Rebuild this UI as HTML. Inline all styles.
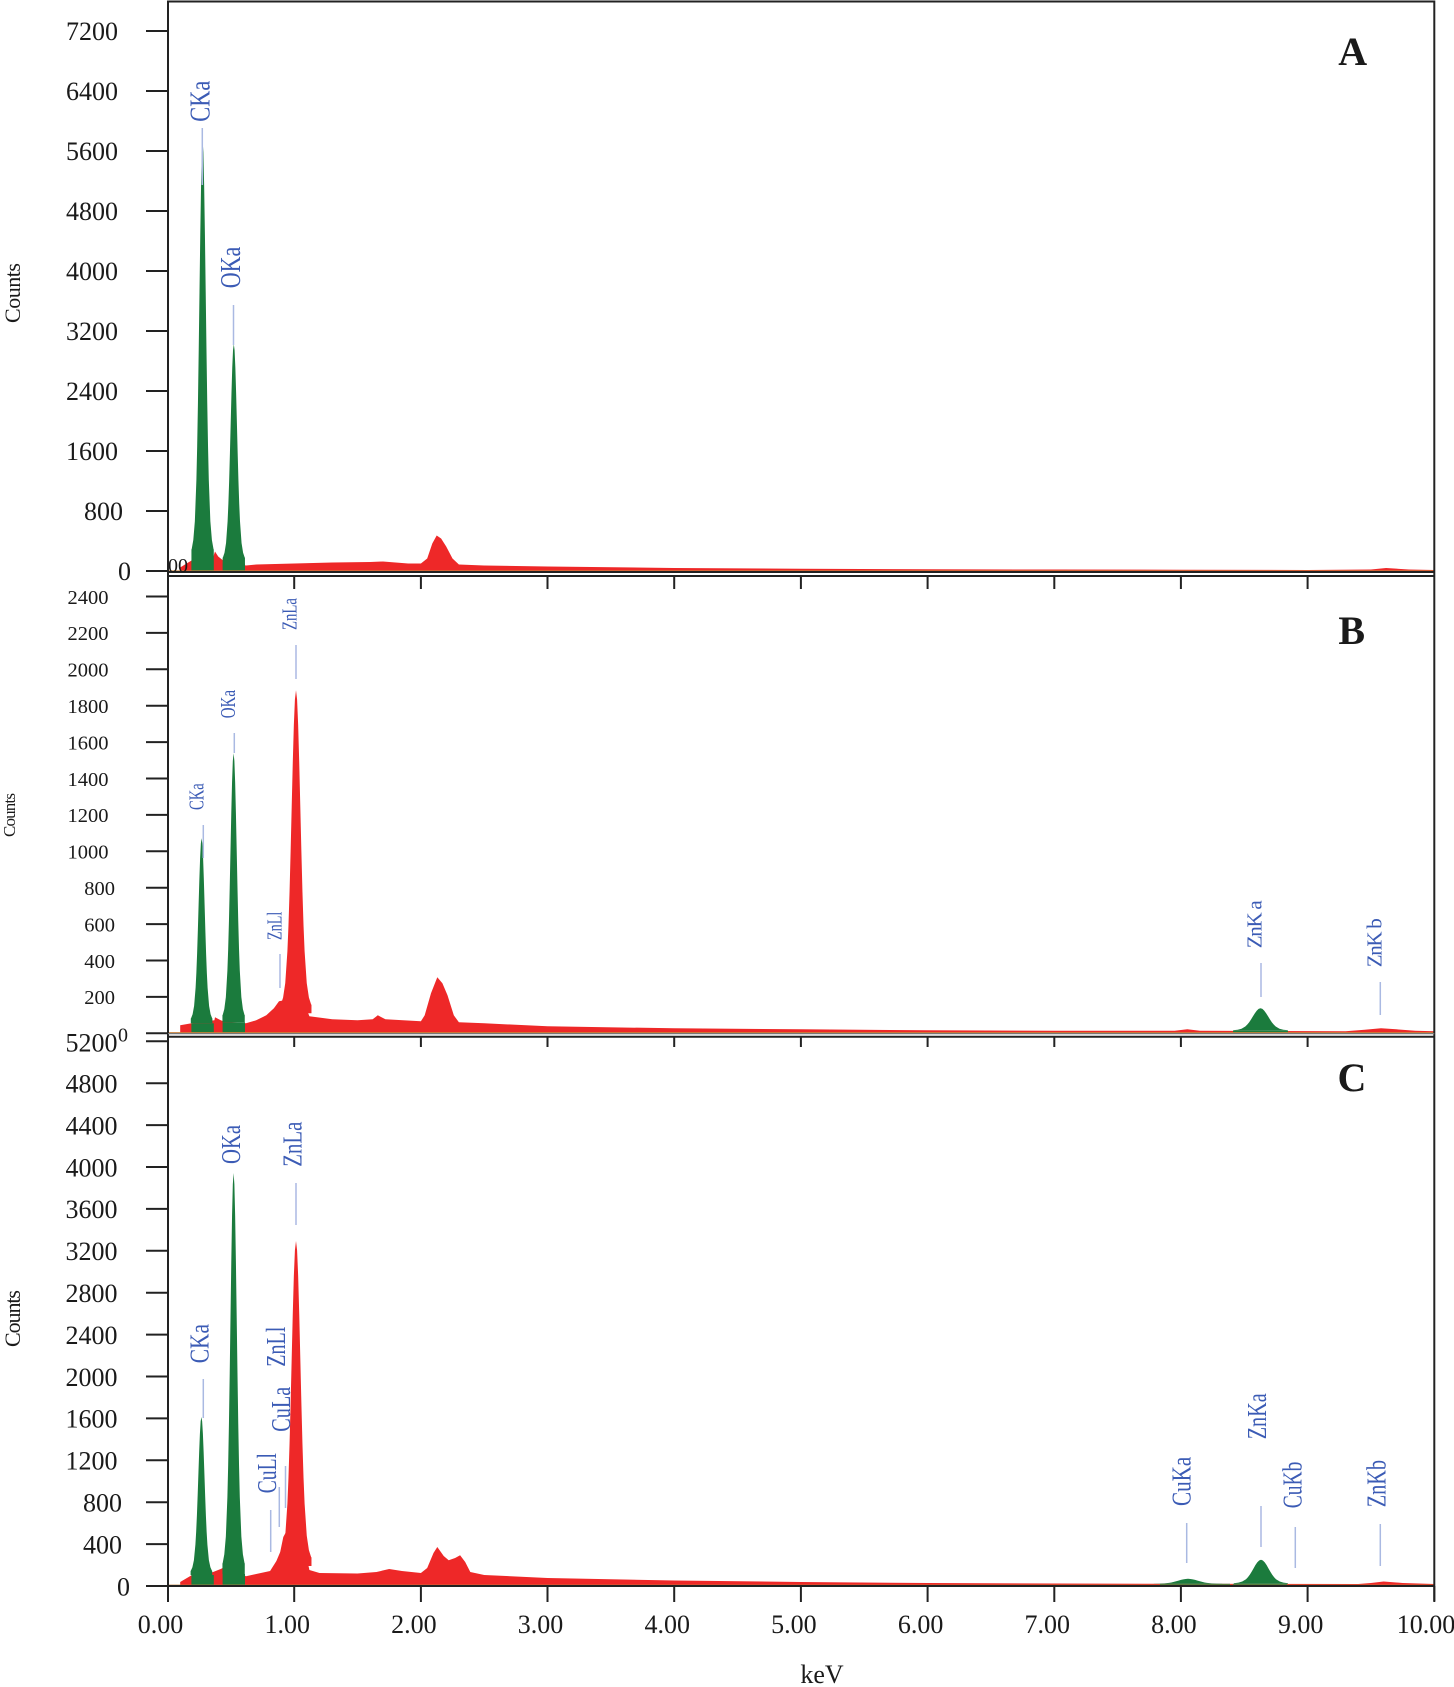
<!DOCTYPE html>
<html>
<head>
<meta charset="utf-8">
<style>
html,body{margin:0;padding:0;background:#fff;}
svg{display:block;}
text{font-family:"Liberation Serif","Times New Roman",serif;}
.tk{fill:#1a1a1a;}
.lb{fill:#3b5bb5;}
.ml{stroke:#aab9e2;stroke-width:1.5;}
.ax{stroke:#222;stroke-width:2;fill:none;}
.tl{stroke:#222;stroke-width:2;}
</style>
</head>
<body>
<svg width="1454" height="1687" viewBox="0 0 1454 1687" xmlns="http://www.w3.org/2000/svg">
<defs>
<path id="gp" d="M-3.6,0 L-3.6,-0.026 L-3.5,-0.0279 L-3,-0.0488 L-2.5,-0.0935 L-2,-0.192 L-1.75,-0.272 L-1.5,-0.376 L-1.25,-0.502 L-1,-0.640 L-0.75,-0.776 L-0.5,-0.893 L-0.25,-0.972 L0,-1 L0.25,-0.972 L0.5,-0.893 L0.75,-0.776 L1,-0.640 L1.25,-0.502 L1.5,-0.376 L1.75,-0.272 L2,-0.192 L2.5,-0.0935 L3,-0.0488 L3.5,-0.0279 L3.6,-0.026 L3.6,0 Z"/>
</defs>
<rect width="1454" height="1687" fill="#fff"/>

<!-- ===== Panel A spectrum ===== -->
<polygon fill="#ee2828" points="180.2,571.5 180.2,567.5 186.5,563.5 191.6,560.5 205.5,559.5 213.1,557.5 215,551.5 218.2,556.5 223.2,560.5 246,565.5 256.2,564.5 294.2,563.5 332.2,562.5 370.2,562 382.9,561.5 408.2,563.5 420.9,563.5 427.2,558.5 432.3,543.5 436.7,535.5 441.1,538.5 446.2,546.5 452.5,558.5 458.9,564.5 484.2,565.5 547.5,566.5 674.2,568 800.9,568.7 927.6,569.3 1054.3,569.5 1180.9,569.7 1307.6,570 1370.9,569.5 1386.1,568 1409,569.5 1434.3,570 1434.3,571.5"/>
<g fill="#1b7b3d">
<rect x="191.4" y="560.5" width="22.4" height="11"/>
<use href="#gp" transform="translate(202.6,560.5) scale(3.1,420)"/>
<rect x="222.6" y="563.5" width="22.4" height="8"/>
<use href="#gp" transform="translate(233.8,563.5) scale(3.1,219.5)"/>
</g>

<!-- ===== Panel B spectrum ===== -->
<polygon fill="#ee2828" points="180.2,1033.3 180.2,1025.3 191.6,1023.3 214.4,1020.3 215,1017.3 220.7,1020.3 223.2,1021.3 246,1023.3 256.2,1020.3 266.3,1015.3 273.9,1008.3 279,1001.3 284,1000.3 290,1001 304.3,1003.3 309.4,1016.3 332.2,1019.3 357.5,1020.3 372.7,1019.3 377.8,1015.3 385.4,1019.3 420.9,1021.3 424.7,1015.3 431,993.3 437.3,977.3 442.4,983.3 447.5,995.3 453.8,1015.3 458.9,1022.3 484.2,1023.3 547.5,1026.3 674.2,1028.3 800.9,1029.3 927.6,1030.3 1054.3,1030.8 1174.6,1030.8 1187.3,1029.3 1199.9,1030.8 1345.6,1031.3 1364.6,1029.8 1381,1028.3 1396.3,1029.3 1415.3,1030.8 1434.3,1031.3 1434.3,1033.3"/>
<use href="#gp" fill="#ee2828" transform="translate(296,1013.3) scale(4.3,323)"/>
<g fill="#1b7b3d">
<rect x="191.4" y="1023.3" width="22.4" height="10"/>
<use href="#gp" transform="translate(201.6,1023.3) scale(3.0,185)"/>
<rect x="222.6" y="1022.3" width="22.4" height="11"/>
<use href="#gp" transform="translate(233.6,1022.3) scale(3.1,269)"/>
<rect x="1233" y="1030.8" width="55" height="2.5"/>
<use href="#gp" transform="translate(1260.5,1030.8) scale(7.6,22.5)"/>
</g>

<!-- ===== Panel C spectrum ===== -->
<polygon fill="#ee2828" points="180.2,1586 180.2,1582 191.6,1575.3 205.5,1574 213.1,1572 220.7,1569 224.5,1567 246,1576.3 256.2,1574 270.1,1571 276.4,1561 280.2,1552 283.3,1537 286.6,1531 304.3,1546 309.4,1570 319.5,1573 357.5,1573.5 376.5,1572 389.2,1569 401.9,1571 420.9,1573 427.2,1568 433.5,1553 437.3,1547 443.7,1556 448.7,1560.3 455.1,1558 460.1,1555.3 465.2,1562 470.3,1572 484.2,1575 547.5,1578 674.2,1580.5 800.9,1582 927.6,1583 1054.3,1583.5 1155.6,1583.8 1358.3,1584 1370.9,1583 1383.6,1581.5 1402.6,1583 1434.3,1584 1434.3,1586"/>
<use href="#gp" fill="#ee2828" transform="translate(296,1566) scale(4.3,325)"/>
<g fill="#1b7b3d">
<rect x="191.4" y="1575" width="22.4" height="11"/>
<use href="#gp" transform="translate(201.4,1575) scale(3.0,158)"/>
<rect x="222.6" y="1574" width="22.4" height="12"/>
<use href="#gp" transform="translate(233.6,1574) scale(3.1,401)"/>
<rect x="1160" y="1583.8" width="70" height="2.2"/>
<use href="#gp" transform="translate(1188,1583.8) scale(9.5,5)"/>
<rect x="1233" y="1583.8" width="54" height="2.2"/>
<use href="#gp" transform="translate(1261,1583.8) scale(7.5,24)"/>
</g>

<!-- baselines (orange) -->
<g stroke="#c8803a" stroke-width="1.3">
<line x1="168" y1="571" x2="1434" y2="571"/>
<line x1="168" y1="1032.8" x2="1434" y2="1032.8"/>
<line x1="168" y1="1585.3" x2="1434" y2="1585.3"/>
</g>

<!-- ===== marker lines ===== -->
<g class="ml">
<line x1="202.3" y1="128" x2="202.3" y2="185"/>
<line x1="233.5" y1="305" x2="233.5" y2="345"/>
<line x1="203.3" y1="825" x2="203.3" y2="858"/>
<line x1="234.3" y1="733" x2="234.3" y2="753"/>
<line x1="296" y1="645" x2="296" y2="679"/>
<line x1="280" y1="954" x2="280" y2="988"/>
<line x1="1261" y1="963" x2="1261" y2="997"/>
<line x1="1380.3" y1="982" x2="1380.3" y2="1015"/>
<line x1="203.3" y1="1379" x2="203.3" y2="1418"/>
<line x1="296" y1="1183" x2="296" y2="1225"/>
<line x1="285.5" y1="1466" x2="285.5" y2="1508"/>
<line x1="279.3" y1="1487" x2="279.3" y2="1527"/>
<line x1="270.7" y1="1510" x2="270.7" y2="1552"/>
<line x1="1186.7" y1="1523" x2="1186.7" y2="1563"/>
<line x1="1261" y1="1506" x2="1261" y2="1547"/>
<line x1="1295.3" y1="1527" x2="1295.3" y2="1568"/>
<line x1="1380.3" y1="1524" x2="1380.3" y2="1566"/>
</g>

<!-- ===== element labels ===== -->
<g class="lb">
<text font-size="28" textLength="41" lengthAdjust="spacingAndGlyphs" transform="translate(209.3,121.7) rotate(-90)">CKa</text>
<text font-size="28" textLength="41.6" lengthAdjust="spacingAndGlyphs" transform="translate(240,288.3) rotate(-90)">OKa</text>

<text font-size="21" textLength="26.7" lengthAdjust="spacingAndGlyphs" transform="translate(203.3,810) rotate(-90)">CKa</text>
<text font-size="21" textLength="28.3" lengthAdjust="spacingAndGlyphs" transform="translate(235,718.3) rotate(-90)">OKa</text>
<text font-size="21" textLength="32" lengthAdjust="spacingAndGlyphs" transform="translate(296.7,630) rotate(-90)">ZnLa</text>
<text font-size="21" textLength="28.3" lengthAdjust="spacingAndGlyphs" transform="translate(281.7,940) rotate(-90)">ZnLl</text>
<text font-size="21" textLength="48" transform="translate(1261.7,948.3) rotate(-90)">ZnK a</text>
<text font-size="21" textLength="49" transform="translate(1381.7,967.3) rotate(-90)">ZnK b</text>

<text font-size="27" textLength="39.3" lengthAdjust="spacingAndGlyphs" transform="translate(208.3,1363.3) rotate(-90)">CKa</text>
<text font-size="27" textLength="39" lengthAdjust="spacingAndGlyphs" transform="translate(240,1164) rotate(-90)">OKa</text>
<text font-size="27" textLength="45" lengthAdjust="spacingAndGlyphs" transform="translate(301.7,1166.7) rotate(-90)">ZnLa</text>
<text font-size="27" textLength="40" lengthAdjust="spacingAndGlyphs" transform="translate(285,1366.7) rotate(-90)">ZnLl</text>
<text font-size="27" textLength="45" lengthAdjust="spacingAndGlyphs" transform="translate(290,1431.7) rotate(-90)">CuLa</text>
<text font-size="27" textLength="40.3" lengthAdjust="spacingAndGlyphs" transform="translate(276,1493.3) rotate(-90)">CuLl</text>
<text font-size="27" textLength="49.3" lengthAdjust="spacingAndGlyphs" transform="translate(1190.7,1506) rotate(-90)">CuKa</text>
<text font-size="27" textLength="46" lengthAdjust="spacingAndGlyphs" transform="translate(1266,1439.3) rotate(-90)">ZnKa</text>
<text font-size="27" textLength="46.7" lengthAdjust="spacingAndGlyphs" transform="translate(1301.7,1508.3) rotate(-90)">CuKb</text>
<text font-size="27" textLength="47.3" lengthAdjust="spacingAndGlyphs" transform="translate(1385.7,1507.3) rotate(-90)">ZnKb</text>
</g>

<!-- ===== axes frames ===== -->
<g class="ax">
<line x1="168" y1="1.5" x2="168" y2="1586"/>
<line x1="167" y1="1.5" x2="1434.3" y2="1.5"/>
<line x1="1434.3" y1="0.5" x2="1434.3" y2="1601"/>
<line x1="168" y1="572" x2="1434.3" y2="572"/>
<line x1="168" y1="576" x2="1434.3" y2="576"/>
<line x1="168" y1="1036.7" x2="1434.3" y2="1036.7"/>
<line x1="167" y1="1586" x2="1434.3" y2="1586"/>
</g>
<line x1="168" y1="1033.6" x2="1434.3" y2="1033.6" stroke="#777" stroke-width="1.2"/>

<!-- x ticks -->
<g class="tl">
<line x1="294.2" y1="576" x2="294.2" y2="589"/><line x1="420.9" y1="576" x2="420.9" y2="589"/><line x1="547.5" y1="576" x2="547.5" y2="589"/><line x1="674.2" y1="576" x2="674.2" y2="589"/><line x1="800.9" y1="576" x2="800.9" y2="589"/><line x1="927.6" y1="576" x2="927.6" y2="589"/><line x1="1054.3" y1="576" x2="1054.3" y2="589"/><line x1="1180.9" y1="576" x2="1180.9" y2="589"/><line x1="1307.6" y1="576" x2="1307.6" y2="589"/>
<line x1="294.2" y1="1036.7" x2="294.2" y2="1047"/><line x1="420.9" y1="1036.7" x2="420.9" y2="1047"/><line x1="547.5" y1="1036.7" x2="547.5" y2="1047"/><line x1="674.2" y1="1036.7" x2="674.2" y2="1047"/><line x1="800.9" y1="1036.7" x2="800.9" y2="1047"/><line x1="927.6" y1="1036.7" x2="927.6" y2="1047"/><line x1="1054.3" y1="1036.7" x2="1054.3" y2="1047"/><line x1="1180.9" y1="1036.7" x2="1180.9" y2="1047"/><line x1="1307.6" y1="1036.7" x2="1307.6" y2="1047"/>
<line x1="168" y1="1586" x2="168" y2="1602"/><line x1="294.2" y1="1586" x2="294.2" y2="1602"/><line x1="420.9" y1="1586" x2="420.9" y2="1602"/><line x1="547.5" y1="1586" x2="547.5" y2="1602"/><line x1="674.2" y1="1586" x2="674.2" y2="1602"/><line x1="800.9" y1="1586" x2="800.9" y2="1602"/><line x1="927.6" y1="1586" x2="927.6" y2="1602"/><line x1="1054.3" y1="1586" x2="1054.3" y2="1602"/><line x1="1180.9" y1="1586" x2="1180.9" y2="1602"/><line x1="1307.6" y1="1586" x2="1307.6" y2="1602"/><line x1="1434.3" y1="1586" x2="1434.3" y2="1602"/>
</g>

<!-- y ticks A -->
<g class="tl">
<line x1="146" y1="571" x2="168" y2="571"/><line x1="146" y1="511" x2="168" y2="511"/><line x1="146" y1="451" x2="168" y2="451"/><line x1="146" y1="391" x2="168" y2="391"/><line x1="146" y1="331" x2="168" y2="331"/><line x1="146" y1="271" x2="168" y2="271"/><line x1="146" y1="211" x2="168" y2="211"/><line x1="146" y1="151" x2="168" y2="151"/><line x1="146" y1="91" x2="168" y2="91"/><line x1="146" y1="31" x2="168" y2="31"/>
</g>
<!-- y ticks B -->
<g class="tl">
<line x1="146" y1="1033.3" x2="168" y2="1033.3"/><line x1="146" y1="996.9" x2="168" y2="996.9"/><line x1="146" y1="960.5" x2="168" y2="960.5"/><line x1="146" y1="924.1" x2="168" y2="924.1"/><line x1="146" y1="887.7" x2="168" y2="887.7"/><line x1="146" y1="851.3" x2="168" y2="851.3"/><line x1="146" y1="814.9" x2="168" y2="814.9"/><line x1="146" y1="778.5" x2="168" y2="778.5"/><line x1="146" y1="742.1" x2="168" y2="742.1"/><line x1="146" y1="705.7" x2="168" y2="705.7"/><line x1="146" y1="669.3" x2="168" y2="669.3"/><line x1="146" y1="632.9" x2="168" y2="632.9"/><line x1="146" y1="596.5" x2="168" y2="596.5"/>
</g>
<!-- y ticks C -->
<g class="tl">
<line x1="146" y1="1586" x2="168" y2="1586"/><line x1="146" y1="1544.1" x2="168" y2="1544.1"/><line x1="146" y1="1502.2" x2="168" y2="1502.2"/><line x1="146" y1="1460.3" x2="168" y2="1460.3"/><line x1="146" y1="1418.4" x2="168" y2="1418.4"/><line x1="146" y1="1376.5" x2="168" y2="1376.5"/><line x1="146" y1="1334.6" x2="168" y2="1334.6"/><line x1="146" y1="1292.7" x2="168" y2="1292.7"/><line x1="146" y1="1250.8" x2="168" y2="1250.8"/><line x1="146" y1="1208.9" x2="168" y2="1208.9"/><line x1="146" y1="1167" x2="168" y2="1167"/><line x1="146" y1="1125.1" x2="168" y2="1125.1"/><line x1="146" y1="1083.2" x2="168" y2="1083.2"/><line x1="146" y1="1041.3" x2="168" y2="1041.3"/>
</g>

<!-- y tick labels A -->
<g class="tk" font-size="26" text-anchor="end">
<text x="131" y="580">0</text>
<text x="123" y="520">800</text>
<text x="118" y="460">1600</text>
<text x="118" y="400">2400</text>
<text x="118" y="340">3200</text>
<text x="118" y="280">4000</text>
<text x="118" y="220">4800</text>
<text x="118" y="160">5600</text>
<text x="118" y="100">6400</text>
<text x="118" y="40">7200</text>
</g>
<text class="tk" x="168" y="572" font-size="20">00</text>

<!-- y tick labels B -->
<g class="tk" font-size="20.5" text-anchor="end">
<text x="128" y="1041.7" font-size="20">0</text>
<text x="115" y="1004.2">200</text>
<text x="115" y="967.8">400</text>
<text x="115" y="931.4">600</text>
<text x="115" y="895">800</text>
<text x="108.5" y="858.6">1000</text>
<text x="108.5" y="822.2">1200</text>
<text x="108.5" y="785.8">1400</text>
<text x="108.5" y="749.4">1600</text>
<text x="108.5" y="713">1800</text>
<text x="108.5" y="676.6">2000</text>
<text x="108.5" y="640.2">2200</text>
<text x="108.5" y="603.8">2400</text>
</g>

<!-- y tick labels C -->
<g class="tk" font-size="26" text-anchor="end">
<text x="130" y="1595.3">0</text>
<text x="122" y="1553.4">400</text>
<text x="122" y="1511.5">800</text>
<text x="117.5" y="1469.6">1200</text>
<text x="117.5" y="1427.7">1600</text>
<text x="117.5" y="1385.8">2000</text>
<text x="117.5" y="1343.9">2400</text>
<text x="117.5" y="1302">2800</text>
<text x="117.5" y="1260.1">3200</text>
<text x="117.5" y="1218.2">3600</text>
<text x="117.5" y="1176.3">4000</text>
<text x="117.5" y="1134.4">4400</text>
<text x="117.5" y="1092.5">4800</text>
<text x="117.5" y="1051.7">5200</text>
</g>

<!-- x tick labels -->
<g class="tk" font-size="26" text-anchor="middle">
<text x="160.5" y="1633">0.00</text>
<text x="287.2" y="1633">1.00</text>
<text x="413.9" y="1633">2.00</text>
<text x="540.5" y="1633">3.00</text>
<text x="667.2" y="1633">4.00</text>
<text x="793.9" y="1633">5.00</text>
<text x="920.6" y="1633">6.00</text>
<text x="1047.3" y="1633">7.00</text>
<text x="1173.9" y="1633">8.00</text>
<text x="1300.6" y="1633">9.00</text>
<text x="1426" y="1633">10.00</text>
</g>
<text class="tk" x="822" y="1683" font-size="26" text-anchor="middle">keV</text>

<!-- axis titles -->
<g class="tk">
<text font-size="22" textLength="60" transform="translate(20,323) rotate(-90)">Counts</text>
<text font-size="17" textLength="44" transform="translate(15,837) rotate(-90)">Counts</text>
<text font-size="22" textLength="57" transform="translate(20,1347) rotate(-90)">Counts</text>
</g>

<!-- panel letters -->
<g class="tk" font-size="40" font-weight="bold" text-anchor="middle">
<text x="1352.7" y="65">A</text>
<text x="1351.7" y="644">B</text>
<text x="1352" y="1091">C</text>
</g>
</svg>
</body>
</html>
